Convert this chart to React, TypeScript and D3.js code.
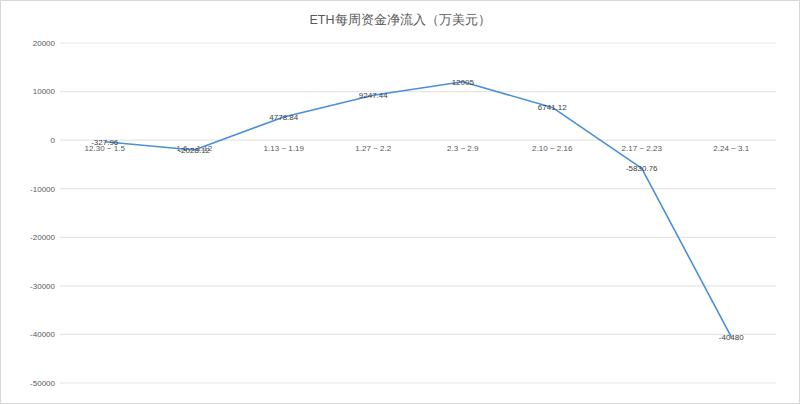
import { useEffect, useRef } from 'react';
import * as d3 from 'd3';

const title = 'ETH每周资金净流入（万美元）';
const weeks = [
    '12.30 ~ 1.5',
    '1.6 ~ 1.12',
    '1.13 ~ 1.19',
    '1.27 ~ 2.2',
    '2.3 ~ 2.9',
    '2.10 ~ 2.16',
    '2.17 ~ 2.23',
    '2.24 ~ 3.1',
];
const netFlow = [-327.96, -2028.12, 4778.84, 9247.44, 12005, 6741.12, -5830.76, -40480];
const yTicks = [20000, 10000, 0, -10000, -20000, -30000, -40000, -50000];

const width = 800;
const height = 404;
const margin = { top: 43, right: 24, bottom: 21, left: 60 };

export default function App() {
    const svgEl = useRef<SVGSVGElement>(null);

    useEffect(() => {
        if (!svgEl.current) return;
        const svg = d3.select(svgEl.current);
        svg.selectAll('*').remove();

        const x = d3
            .scaleBand()
            .domain(weeks)
            .range([margin.left, width - margin.right]);
        const y = d3
            .scaleLinear()
            .domain([-50000, 20000])
            .range([height - margin.bottom, margin.top]);

        // frame
        svg.append('rect')
            .attr('x', 0.5)
            .attr('y', 0.5)
            .attr('width', width - 1)
            .attr('height', height - 1)
            .attr('fill', '#fff')
            .attr('stroke', '#d9d9d9');

        svg.append('text')
            .attr('x', width / 2)
            .attr('y', 24)
            .attr('text-anchor', 'middle')
            .attr('font-size', 12.5)
            .attr('fill', '#595959')
            .text(title);

        // gridlines + y labels
        const grid = svg.append('g');
        grid.selectAll('line')
            .data(yTicks)
            .join('line')
            .attr('x1', margin.left)
            .attr('x2', width - margin.right)
            .attr('y1', (d) => y(d))
            .attr('y2', (d) => y(d))
            .attr('stroke', '#e6e6e6')
            .attr('stroke-width', 1.2);
        grid.selectAll('text')
            .data(yTicks)
            .join('text')
            .attr('x', margin.left - 5)
            .attr('y', (d) => y(d))
            .attr('dy', '0.35em')
            .attr('text-anchor', 'end')
            .attr('font-size', 8)
            .attr('fill', '#595959')
            .text((d) => String(d));

        // category labels sit just under the zero line
        svg.append('g')
            .selectAll('text')
            .data(weeks)
            .join('text')
            .attr('x', (d) => x(d)! + x.bandwidth() / 2)
            .attr('y', y(0) + 11)
            .attr('text-anchor', 'middle')
            .attr('font-size', 8)
            .attr('fill', '#595959')
            .text((d) => d);

        const line = d3
            .line<number>()
            .x((_, i) => x(weeks[i])! + x.bandwidth() / 2)
            .y((d) => y(d));
        svg.append('path')
            .datum(netFlow)
            .attr('d', line)
            .attr('fill', 'none')
            .attr('stroke', '#4a90d9')
            .attr('stroke-width', 1.6)
            .attr('stroke-linejoin', 'round');

        svg.append('g')
            .selectAll('text')
            .data(netFlow)
            .join('text')
            .attr('x', (_, i) => x(weeks[i])! + x.bandwidth() / 2)
            .attr('y', (d) => y(d))
            .attr('dy', '0.35em')
            .attr('text-anchor', 'middle')
            .attr('font-size', 8)
            .attr('fill', '#404040')
            .text((d) => String(d));
    }, []);

    return (
        <div style={{ position: 'absolute', left: 0, top: 0 }}>
            <svg
                ref={svgEl}
                width={width}
                height={height}
                viewBox={`0 0 ${width} ${height}`}
                style={{ display: 'block', fontFamily: 'Liberation Sans, Arial, sans-serif' }}
            />
        </div>
    );
}
